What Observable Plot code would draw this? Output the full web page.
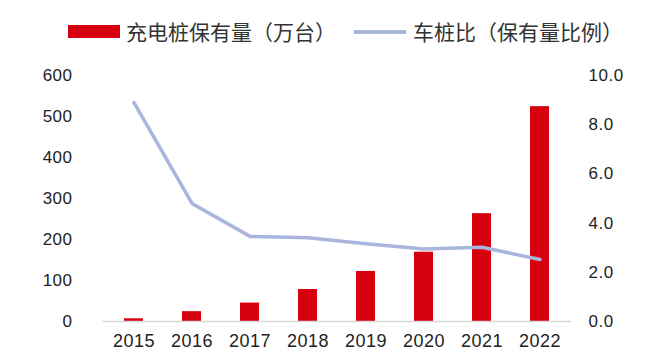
<!DOCTYPE html>
<html><head><meta charset="utf-8">
<script src="https://cdn.jsdelivr.net/npm/d3@7"></script>
<script src="https://cdn.jsdelivr.net/npm/@observablehq/plot@0.6"></script>
<style>
body{margin:0;background:#fff;}
#legend{position:relative;height:48px;width:653px;font-family:"Noto Sans CJK SC",sans-serif;font-size:21px;color:#333;}
#legend .sw{position:absolute;}
#legend .tx{position:absolute;top:16px;line-height:30px;white-space:nowrap;}
</style></head><body>
<div id="legend"></div><div id="chart"></div>
<script>
const years = ["2015","2016","2017","2018","2019","2020","2021","2022"];
const piles = [6.6, 24, 45, 78, 122, 169, 263, 524];
const ratio = [8.9, 4.8, 3.46, 3.4, 3.16, 2.95, 3.02, 2.52];
const leftTicks = [0,100,200,300,400,500,600];
const rightTicks = [0,2,4,6,8,10];
const seriesNames = ["充电桩保有量（万台）","车桩比（保有量比例）"];
const colors = ["#d7000f","#a9b5dc"];
const k = 60; // right-axis value to left-axis scale

const legend = document.getElementById("legend");
legend.innerHTML = `
<div class="sw" style="left:68px;top:25px;width:52px;height:13px;background:${colors[0]}"></div>
<div class="tx" style="left:126px">${seriesNames[0]}</div>
<div class="sw" style="left:354px;top:30px;width:52px;height:3.5px;background:${colors[1]}"></div>
<div class="tx" style="left:413px">${seriesNames[1]}</div>`;

const data = years.map((y,i)=>({year:y, piles:piles[i], ratio:ratio[i]}));

const chart = Plot.plot({
  width: 653, height: 304,
  marginTop: 27, marginBottom: 31, marginLeft: 102, marginRight: 82,
  x: {domain: years, paddingInner: 0.68, paddingOuter: 0.34, axis: null},
  y: {domain: [0, 600], axis: null},
  marks: [
    Plot.barY(data, {x: "year", y: "piles", fill: colors[0]}),
    Plot.ruleY([0], {stroke: "#d9d9d9", strokeWidth: 1.5}),
    Plot.lineY(data, {x: "year", y: d => d.ratio * k, stroke: colors[1], strokeWidth: 3.5}),
    Plot.axisX({tickSize: 0, tickPadding: 13, fontSize: 18, fill: "#222", fontFamily: "Liberation Sans, Arial, sans-serif", label: null}),
    Plot.axisY(leftTicks, {anchor: "left", tickSize: 0, tickPadding: 30, fontSize: 17, fill: "#222", fontFamily: "Liberation Sans, Arial, sans-serif", label: null}),
    Plot.axisY(rightTicks.map(t => t * k), {anchor: "right", tickSize: 0, tickPadding: 17, fontSize: 17, fill: "#222", fontFamily: "Liberation Sans, Arial, sans-serif", tickFormat: d => (d / k).toFixed(1), label: null})
  ]
});
chart.style.letterSpacing = "0.5px";
document.getElementById("chart").appendChild(chart);
</script>
</body></html>
